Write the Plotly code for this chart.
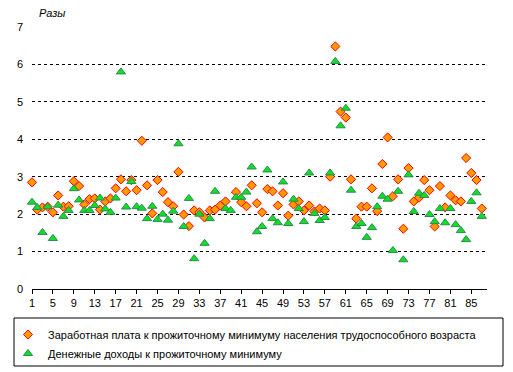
import plotly.graph_objects as go

regions = list(range(1, 88))

salary_ratio = [
    2.85, 2.12, 2.18, 2.2, 2.05, 2.5, 2.2, 2.21, 2.88, 2.75,
    2.26, 2.4, 2.42, 2.12, 2.34, 2.42, 2.69, 2.93, 2.61, 2.91,
    2.64, 3.96, 2.77, 2.02, 2.91, 2.59, 2.32, 2.21, 3.13,
    1.99, 1.68, 2.1, 2.05, 1.91, 2.1, 2.12, 2.23, 2.34, None,
    2.59, 2.32, 2.21, 2.77, 2.29, 2.05, 2.67, 2.61, 2.23, 2.56,
    1.96, 2.26, 2.34, 2.1, 2.23, 2.07, 2.15, 2.1, 3.0,
    6.48, 4.74, 4.58, 2.93, 1.88, 2.2, 2.2, 2.69, 2.08, 3.34,
    4.05, 2.48, 2.93, 1.61, 3.23, 2.34, 2.44, 2.91, 2.64, 1.67,
    2.75, 2.18, 2.5, 2.37, 2.34, 3.5, 3.1, 2.91, 2.15,
]

income_ratio = [
    2.32, 2.18, 1.51, 2.2, 1.35, 2.24, 1.94, 2.1, 2.68, 2.38,
    2.1, 2.1, 2.23, 2.43, 2.14, 2.05, 2.43, 5.8, 2.19, 2.87,
    2.2, 2.16, 1.88, 2.21, 1.86, 2.0, 1.84, 2.08, 3.88,
    1.67, 2.42, 0.81, 2.0, 1.22, 1.88, 2.61, None, 2.15, 2.1,
    2.45, 2.45, 2.59, 3.26, 1.53, 1.67, 3.18, 1.88, 1.77, 2.86,
    1.75, 2.4, 2.15, 1.8, 3.1, 2.02, 1.83, 1.91, 3.1,
    6.08, 4.36, 4.83, 2.64, 1.67, 1.75, 1.38, 1.64, 2.2, 2.48,
    2.4, 1.03, 2.61, 0.78, 3.05, 2.07, 2.56, 2.5, 1.99, 1.8,
    2.15, 1.77, 2.15, 1.72, 1.56, 1.32, 2.34, 2.57, 1.94,
]

x_ticks = list(range(1, 88, 4))
y_ticks = [0, 1, 2, 3, 4, 5, 6, 7]

name_salary = "Заработная плата к прожиточному минимуму населения трудоспособного возраста"
name_income = "Денежные доходы к прожиточному минимуму"

W, H = 513, 372
ML, MR, MT, MB = 32, 26, 27, 83
pw = W - ML - MR
ph = H - MT - MB

fig = go.Figure()
fig.add_trace(go.Scatter(
    x=regions, y=salary_ratio, mode="markers", name=name_salary, cliponaxis=False,
    marker=dict(symbol="diamond", size=7, color="#FF9900",
                line=dict(color="#FF0000", width=1)),
))
fig.add_trace(go.Scatter(
    x=regions, y=income_ratio, mode="markers", name=name_income, cliponaxis=False,
    marker=dict(symbol="triangle-up", size=8, color="#11E022",
                line=dict(color="#2A8A55", width=1)),
))

font = "Arial, 'Liberation Sans', sans-serif"

fig.update_layout(
    width=W, height=H,
    margin=dict(l=ML, r=MR, t=MT, b=MB, autoexpand=False),
    paper_bgcolor="white", plot_bgcolor="white",
    font=dict(family=font, size=11, color="black"),
    showlegend=True,
    legend=dict(
        x=(8 - ML) / pw, y=(MT + ph - 320) / ph,
        xanchor="left", yanchor="top",
        bgcolor="rgba(0,0,0,0)", borderwidth=0,
        font=dict(family=font, size=11, color="black"),
        itemwidth=30, tracegroupgap=0,
    ),
    xaxis=dict(
        range=[1, 88], tickvals=x_ticks, ticktext=[str(v) for v in x_ticks],
        showgrid=False, zeroline=False, showline=True, linecolor="black", linewidth=1,
        ticks="outside", ticklen=4, tickcolor="black", tickwidth=1,
        tickfont=dict(family=font, size=11, color="black"),
    ),
    yaxis=dict(
        range=[0, 7], tickvals=y_ticks, ticktext=[str(v) for v in y_ticks],
        showgrid=True, gridcolor="black", gridwidth=1, griddash="3px,3px",
        zeroline=False, showline=False, ticks="",
        ticklabelstandoff=8,
        tickfont=dict(family=font, size=11, color="black"),
    ),
    annotations=[dict(
        text="<i>Разы</i>", xref="paper", yref="paper",
        x=(37 - ML) / pw, y=(MT + ph - 13) / ph, xanchor="left", yanchor="middle",
        showarrow=False, font=dict(family=font, size=11, color="black"),
    )],
    shapes=[dict(
        type="rect", xref="paper", yref="paper",
        x0=(14 - ML) / pw, x1=(503 - ML) / pw,
        y0=(MT + ph - 366) / ph, y1=(MT + ph - 318) / ph,
        line=dict(color="black", width=1), fillcolor="rgba(0,0,0,0)",
    )],
)

fig.write_html("out.html")
